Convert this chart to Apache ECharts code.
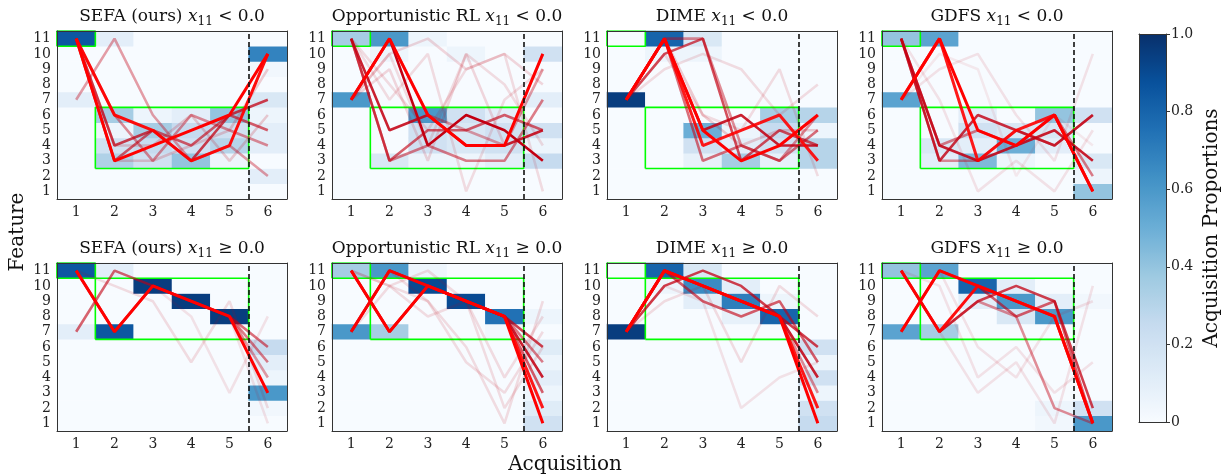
<!DOCTYPE html>
<html>
<head>
<meta charset="utf-8">
<script src="https://cdn.jsdelivr.net/npm/echarts@6/dist/echarts.min.js"></script>
<style>html,body{margin:0;padding:0;background:#fff}#main{width:1223px;height:476px}</style>
</head>
<body>
<div id="main"></div>
<script>
// acquisition order heatmaps + trajectories
const steps = ['1', '2', '3', '4', '5', '6'];
const features = ['1', '2', '3', '4', '5', '6', '7', '8', '9', '10', '11'];
const methods = ['SEFA (ours)', 'Opportunistic RL', 'DIME', 'GDFS'];
const conditions = ['<', '≥'];
const cutoff = 5.5;

// [step, feature, proportion] (cells not listed are 0)
const heatSefaLow = [[1,11,0.85],[1,7,0.1],[2,11,0.1],[2,6,0.35],[2,5,0.05],[2,4,0.2],[2,3,0.32],
  [3,6,0.05],[3,5,0.35],[3,4,0.25],[3,3,0.2],[4,6,0.1],[4,5,0.25],[4,4,0.2],[4,3,0.4],
  [5,6,0.4],[5,5,0.2],[5,4,0.3],[5,3,0.05],[6,10,0.68],[6,9,0.03],[6,7,0.15],[6,6,0.05],[6,5,0.1],[6,4,0.1],[6,2,0.1]];
const heatOppLow = [[1,11,0.35],[1,7,0.6],[2,11,0.6],[2,10,0.05],[2,3,0.15],[3,11,0.05],[3,6,0.6],[3,5,0.2],[3,4,0.2],[3,3,0.05],
  [4,10,0.05],[4,6,0.2],[4,5,0.15],[4,4,0.15],[4,3,0.05],[5,6,0.1],[5,5,0.2],[5,4,0.2],[5,3,0.1],
  [6,10,0.2],[6,7,0.1],[6,5,0.2],[6,4,0.05],[6,3,0.25]];
const heatDimeLow = [[1,7,0.95],[2,11,0.8],[2,10,0.05],[3,11,0.15],[3,10,0.05],[3,5,0.5],[3,4,0.2],[3,3,0.08],
  [4,5,0.05],[4,4,0.1],[4,3,0.35],[5,6,0.35],[5,5,0.25],[5,4,0.2],[5,3,0.08],[6,6,0.3],[6,5,0.05],[6,4,0.3],[6,3,0.3]];
const heatGdfsLow = [[1,11,0.4],[1,7,0.55],[2,11,0.55],[2,4,0.15],[2,3,0.1],[3,6,0.1],[3,5,0.2],[3,4,0.1],[3,3,0.45],
  [4,5,0.15],[4,4,0.5],[4,3,0.05],[5,6,0.4],[5,5,0.15],[5,4,0.1],[6,6,0.2],[6,3,0.15],[6,2,0.05],[6,1,0.4]];
const heatSefaHigh = [[1,11,0.85],[1,7,0.1],[2,11,0.1],[2,7,0.85],[3,10,0.95],[4,9,0.95],[5,8,0.95],
  [6,6,0.25],[6,5,0.1],[6,4,0.05],[6,3,0.6],[6,2,0.03]];
const heatOppHigh = [[1,11,0.35],[1,7,0.6],[2,11,0.6],[2,7,0.35],[3,11,0.05],[3,10,0.9],[4,9,0.9],[5,8,0.75],[5,7,0.03],
  [6,8,0.05],[6,6,0.12],[6,5,0.05],[6,4,0.1],[6,3,0.05],[6,2,0.12],[6,1,0.2]];
const heatDimeHigh = [[1,7,0.95],[2,11,0.8],[2,10,0.05],[3,11,0.15],[3,10,0.65],[3,9,0.1],[4,10,0.1],[4,9,0.7],[4,8,0.08],
  [5,9,0.05],[5,8,0.8],[6,6,0.2],[6,5,0.05],[6,4,0.2],[6,3,0.05],[6,2,0.2],[6,1,0.25]];
const heatGdfsHigh = [[1,11,0.4],[1,7,0.55],[2,11,0.55],[2,7,0.35],[3,10,0.8],[3,9,0.1],[4,10,0.1],[4,9,0.6],[4,8,0.15],
  [5,9,0.1],[5,8,0.6],[5,2,0.05],[5,1,0.03],[6,9,0.03],[6,2,0.2],[6,1,0.6]];

// [feature sequence, opacity]
const pathsSefaLow = [[[11,3,3,4,5,9],0.15],[[11,4,4,6,3,6],0.15],[[7,11,6,3,4,2],0.3],[[11,6,3,6,5,4],0.35],
  [[11,3,5,4,6,5],0.5],[[11,4,5,3,6,7],0.6],[[11,6,5,3,4,10],0.95],[[11,3,4,5,6,10],1]];
const pathsOppLow = [[[7,10,11,9,10,8],0.12],[[11,7,10,1,7,9],0.1],[[7,9,3,10,4,10],0.12],[[11,8,5,9,10,1],0.1],[[7,10,4,10,8,4],0.1],
  [[7,11,6,5,4,9],0.3],[[11,3,4,3,3,7],0.4],[[11,3,5,5,6,5],0.5],[[11,5,6,4,4,5],0.7],[[7,11,4,6,5,3],0.85],[[7,11,6,4,4,10],1]];
const pathsDimeLow = [[[7,9,10,9,6,8],0.1],[[7,10,6,5,9,2],0.1],[[7,11,6,4,5,5],0.15],[[7,11,11,4,3,6],0.35],
  [[7,11,3,4,3,5],0.45],[[7,10,11,3,5,4],0.55],[[7,11,5,6,4,4],0.7],[[7,11,4,5,6,3],0.9],[[7,11,5,3,4,6],1]];
const pathsGdfsLow = [[[7,9,10,6,3,10],0.08],[[11,7,1,3,1,5],0.08],[[7,10,9,2,6,4],0.06],[[11,3,3,5,4,6],0.35],
  [[11,4,5,4,6,2],0.4],[[11,3,6,5,4,6],0.65],[[11,4,3,4,5,3],0.7],[[7,11,3,5,6,1],0.9],[[7,11,5,4,6,1],1]];
const pathsSefaHigh = [[[11,10,9,5,9,2],0.1],[[7,11,10,8,3,8],0.08],[[11,7,10,9,8,1],0.08],[[11,7,10,9,8,4],0.3],
  [[11,7,10,9,8,5],0.4],[[7,11,10,9,8,6],0.45],[[11,7,10,9,8,3],1]];
const pathsOppHigh = [[[7,10,11,9,4,8],0.1],[[11,10,9,6,1,9],0.1],[[7,11,9,5,3,7],0.1],[[11,10,8,9,2,6],0.1],
  [[7,11,10,9,8,5],0.4],[[11,7,10,9,8,3],0.5],[[11,7,10,9,8,6],0.6],[[7,11,10,9,8,4],0.7],[[7,11,10,9,8,2],0.9],[[11,7,10,9,8,1],1]];
const pathsDimeHigh = [[[7,9,10,5,10,8],0.1],[[7,10,9,2,4,5],0.08],[[7,11,10,9,8,3],0.35],[[7,11,9,8,9,5],0.5],
  [[7,10,11,10,8,6],0.6],[[7,11,10,9,8,4],0.7],[[7,11,10,9,8,2],0.9],[[7,11,10,9,8,1],1]];
const pathsGdfsHigh = [[[11,7,3,5,1,10],0.08],[[7,11,6,4,8,9],0.08],[[11,10,4,6,3,5],0.08],[[11,7,9,8,2,1],0.35],
  [[7,11,10,8,9,1],0.5],[[11,7,9,10,9,2],0.6],[[11,7,10,9,8,1],0.95],[[7,11,10,9,8,1],1]];

// green boxes [x0, x1, y0, y1]
const boxesLow = [[0.5,1.5,10.5,11.5],[1.5,5.5,2.5,6.5]];
const boxesHigh = [[0.5,1.5,10.5,11.5],[1.5,5.5,6.5,10.5]];

const panelHeat = [heatSefaLow, heatOppLow, heatDimeLow, heatGdfsLow, heatSefaHigh, heatOppHigh, heatDimeHigh, heatGdfsHigh];
const panelPaths = [pathsSefaLow, pathsOppLow, pathsDimeLow, pathsGdfsLow, pathsSefaHigh, pathsOppHigh, pathsDimeHigh, pathsGdfsHigh];

const blues = ['#f7fbff','#deebf7','#c6dbef','#9ecae1','#6baed6','#4292c6','#2171b5','#08519c','#08306b'];
const FONT = 'DejaVu Serif';
const gridLefts = [57, 332, 607, 882];
const gridTops = [31, 263];
const gridW = 230, gridH = 168;

const chart = echarts.init(document.getElementById('main'), null, { renderer: 'canvas' });

const grids = [], xAxes = [], yAxes = [], series = [], graphics = [], heatIdx = [];
const spine = { show: true, onZero: false, lineStyle: { color: '#333', width: 1 } };

for (let g = 0; g < 8; g++) {
  const row = Math.floor(g / 4), col = g % 4;
  grids.push({ left: gridLefts[col], top: gridTops[row], width: gridW, height: gridH });
  xAxes.push({
    gridIndex: g, type: 'category', data: steps, position: 'bottom', z: 20,
    axisLine: spine, axisTick: { alignWithLabel: true, length: 4, lineStyle: { color: '#333' } },
    axisLabel: { fontFamily: FONT, fontSize: 14, color: '#222', margin: 6 }, splitLine: { show: false }
  });
  xAxes.push({
    gridIndex: g, type: 'value', min: 0.5, max: 6.5, position: 'top', z: 20,
    axisLine: spine, axisTick: { show: false }, axisLabel: { show: false }, splitLine: { show: false }
  });
  yAxes.push({
    gridIndex: g, type: 'category', data: features, position: 'left', z: 20,
    axisLine: spine, axisTick: { alignWithLabel: true, length: 4, lineStyle: { color: '#333' } },
    axisLabel: { fontFamily: FONT, fontSize: 14, color: '#222', margin: 6, interval: 0 }, splitLine: { show: false }
  });
  yAxes.push({
    gridIndex: g, type: 'value', min: 0.5, max: 11.5, position: 'right', z: 20,
    axisLine: spine, axisTick: { show: false }, axisLabel: { show: false }, splitLine: { show: false }
  });

  // full grid of cells, zero where not listed
  const cells = {};
  panelHeat[g].forEach(([s, f, v]) => { cells[s + '_' + f] = v; });
  const heatData = [];
  for (let s = 1; s <= steps.length; s++) {
    for (let f = 1; f <= features.length; f++) {
      heatData.push([s - 1, f - 1, cells[s + '_' + f] || 0]);
    }
  }
  heatIdx.push(series.length);
  series.push({
    type: 'heatmap', xAxisIndex: 2 * g, yAxisIndex: 2 * g, data: heatData,
    silent: true, emphasis: { disabled: true }
  });

  (row === 0 ? boxesLow : boxesHigh).forEach(([x0, x1, y0, y1]) => {
    series.push({
      type: 'line', xAxisIndex: 2 * g + 1, yAxisIndex: 2 * g + 1, silent: true, symbol: 'none',
      data: [[x0, y0], [x1, y0], [x1, y1], [x0, y1], [x0, y0]],
      lineStyle: { color: '#00ff00', width: 1.6 }
    });
  });

  panelPaths[g].forEach(([seq, a]) => {
    const color = a >= 0.9 ? 'rgba(255,0,0,' + a + ')' : 'rgba(195,0,18,' + Math.min(1, a * 1.25) + ')';
    series.push({
      type: 'line', xAxisIndex: 2 * g + 1, yAxisIndex: 2 * g + 1, silent: true, symbol: 'none',
      data: seq.map((f, i) => [i + 1, f]),
      lineStyle: { color: color, width: a >= 0.9 ? 3 : 2.6 }
    });
  });

  series.push({
    type: 'line', xAxisIndex: 2 * g + 1, yAxisIndex: 2 * g + 1, silent: true, data: [],
    markLine: {
      silent: true, symbol: 'none', label: { show: false },
      lineStyle: { color: '#111', width: 1.6, type: [5, 3] },
      data: [{ xAxis: cutoff }]
    }
  });

  graphics.push({
    type: 'text', x: gridLefts[col] + gridW / 2, y: row === 0 ? 17 : 249,
    style: {
      text: '{t|' + methods[col] + ' }{i|x}{s|11}{t| ' + conditions[row] + ' 0.0}',
      align: 'center', verticalAlign: 'middle', fill: '#111',
      rich: {
        t: { fontFamily: FONT, fontSize: 17, lineHeight: 22 },
        i: { fontFamily: FONT, fontSize: 17, fontStyle: 'italic', lineHeight: 22 },
        s: { fontFamily: FONT, fontSize: 12, lineHeight: 13, verticalAlign: 'bottom' }
      }
    }
  });
}

// colorbar frame + ticks
grids.push({ left: 1139, top: 34, width: 28, height: 388 });
xAxes.push({ gridIndex: 8, type: 'value', min: 0, max: 1, position: 'bottom', z: 20, axisLine: spine,
  axisTick: { show: false }, axisLabel: { show: false }, splitLine: { show: false } });
xAxes.push({ gridIndex: 8, type: 'value', min: 0, max: 1, position: 'top', z: 20, axisLine: spine,
  axisTick: { show: false }, axisLabel: { show: false }, splitLine: { show: false } });
yAxes.push({ gridIndex: 8, type: 'value', min: 0, max: 1, interval: 0.2, position: 'right', z: 20, axisLine: spine,
  axisTick: { length: 4, lineStyle: { color: '#333' } }, splitLine: { show: false },
  axisLabel: { fontFamily: FONT, fontSize: 14, color: '#222', margin: 5,
    formatter: v => v === 0 ? '0' : v.toFixed(1) },
  name: 'Acquisition Proportions', nameLocation: 'middle', nameRotate: 90, nameGap: 36,
  nameTextStyle: { fontFamily: FONT, fontSize: 20, color: '#111' } });
yAxes.push({ gridIndex: 8, type: 'value', min: 0, max: 1, position: 'left', z: 20, axisLine: spine,
  axisTick: { show: false }, axisLabel: { show: false }, splitLine: { show: false } });

graphics.push({
  type: 'text', x: 18, y: 232, rotation: Math.PI / 2,
  style: { text: 'Feature', fontFamily: FONT, fontSize: 20, fill: '#111', align: 'center', verticalAlign: 'middle' }
});
graphics.push({
  type: 'text', x: 565, y: 465,
  style: { text: 'Acquisition', fontFamily: FONT, fontSize: 20, fill: '#111', align: 'center', verticalAlign: 'middle' }
});

const option = {
  animation: false,
  backgroundColor: '#fff',
  grid: grids,
  xAxis: xAxes,
  yAxis: yAxes,
  visualMap: {
    type: 'continuous', min: 0, max: 1, seriesIndex: heatIdx, calculable: false, hoverLink: false,
    orient: 'vertical', left: 1139, top: 34, itemWidth: 28, itemHeight: 388, padding: 0,
    inRange: { color: blues }
  },
  graphic: graphics,
  series: series
};
chart.setOption(option);
</script>
</body>
</html>
